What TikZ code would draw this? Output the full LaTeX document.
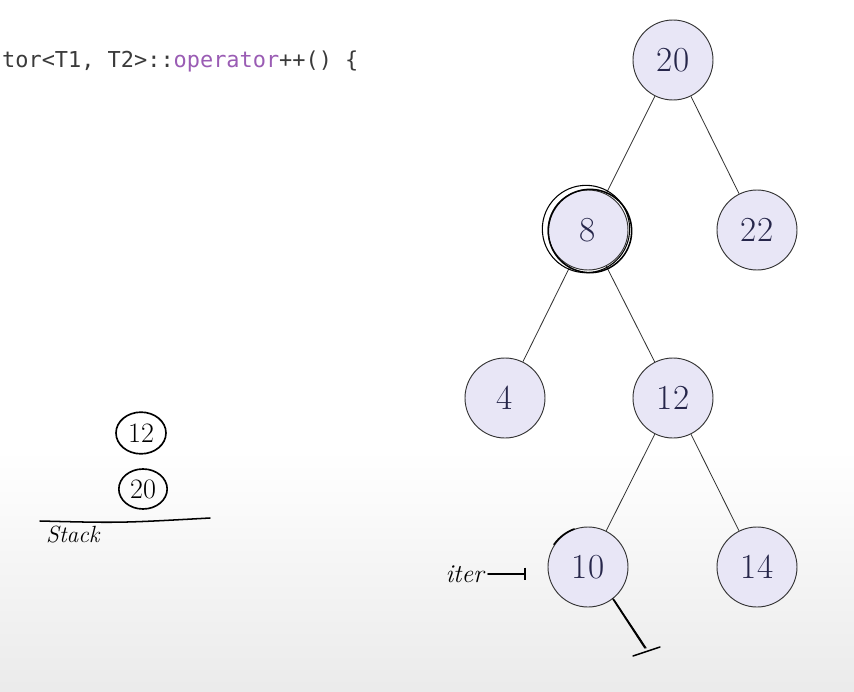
\documentclass[tikz,border=0pt]{standalone}
\usepackage{fontspec}
\newfontfamily\codefont{DejaVu Sans Mono}
\usepackage{tikz}
\usetikzlibrary{arrows.meta, positioning, shapes.geometric}
\definecolor{NodeFill}{HTML}{E8E6F6}
\definecolor{NodeText}{HTML}{26264A}
\definecolor{CodePurple}{HTML}{9A5CB4}
\definecolor{CodeGray}{HTML}{3A3A3A}
\tikzset{
  treenode/.style={circle, draw=black!80, line width=0.8pt, fill=NodeFill, text=NodeText, minimum size=2.4cm, inner sep=0pt, font=\fontsize{30}{34}\selectfont},
  treeedge/.style={draw=black!80, line width=0.7pt},
  inknote/.style={font=\itshape\fontsize{22}{24}\selectfont},
  inkline/.style={line width=1.3pt, line cap=round},
  stackbox/.style={ellipse, draw, line width=1.4pt, minimum width=1.5cm, minimum height=1.25cm, inner sep=0pt, font=\fontsize{24}{26}\selectfont}
}

\begin{document}
\begin{tikzpicture}[x=0.03cm, y=-0.03cm]
  \useasboundingbox (0,0) rectangle (854,692);
  % background
  \fill[white] (0,0) rectangle (854,450);
  \shade[top color=white, bottom color=black!8] (0,450) rectangle (854,692);

  % code line
  \node[anchor=base west, inner sep=0pt, text=CodeGray, font=\codefont\fontsize{18.7}{21}\selectfont] (code) at (2,67)
    {tor<T1, T2>::\textcolor{CodePurple}{operator}++() \{};

  % tree
  \node[treenode] (n20) at (673,60) {20};
  \node[treenode] (n8) at (588,230) {8};
  \node[treenode] (n22) at (757,230) {22};
  \node[treenode] (n4) at (505,398) {4};
  \node[treenode] (n12) at (673,398) {12};
  \node[treenode] (n10) at (588,567) {10};
  \node[treenode] (n14) at (757,567) {14};

  \draw[treeedge] (n20) -- (n8);
  \draw[treeedge] (n20) -- (n22);
  \draw[treeedge] (n8) -- (n4);
  \draw[treeedge] (n8) -- (n12);
  \draw[treeedge] (n12) -- (n10);
  \draw[treeedge] (n12) -- (n14);

  % ink around 8
  \draw[inkline] (590,231) circle[radius=1.25cm];
  \draw[inkline, line width=0.9pt] (586,229) circle[radius=1.31cm];

  % stack
  \node[stackbox] (s12) at (141,433) {12};
  \node[stackbox, minimum width=1.45cm, minimum height=1.2cm] (s20) at (143,489) {20};
  \coordinate (stackL) at (40,521);
  \coordinate (stackR) at (210,518);
  \draw[inkline] (stackL) .. controls (120,523) .. (stackR);
  \node[inknote, font=\itshape\fontsize{20}{22}\selectfont, anchor=north west] (stacklbl) at (42,522) {Stack};

  % iter
  \node[inknote, anchor=east] (iter) at (488,574) {iter};
  \coordinate (iterend) at (526,574);
  \draw[inkline, -{Bar[width=11pt]}] (iter.east) -- (iterend);
  \draw[inkline] (n10.110) arc[start angle=110, end angle=145, radius=1.27cm];
  \coordinate (nullend) at (645,648);
  \coordinate (barL) at (633,656);
  \coordinate (barR) at (660,647);
  \draw[inkline] (n10.-52) -- (nullend);
  \draw[inkline, line width=0.8pt] ([xshift=2pt]n10.-54) -- ([xshift=1pt]nullend);
  \draw[inkline] (barL) -- (barR);
\end{tikzpicture}
\end{document}
